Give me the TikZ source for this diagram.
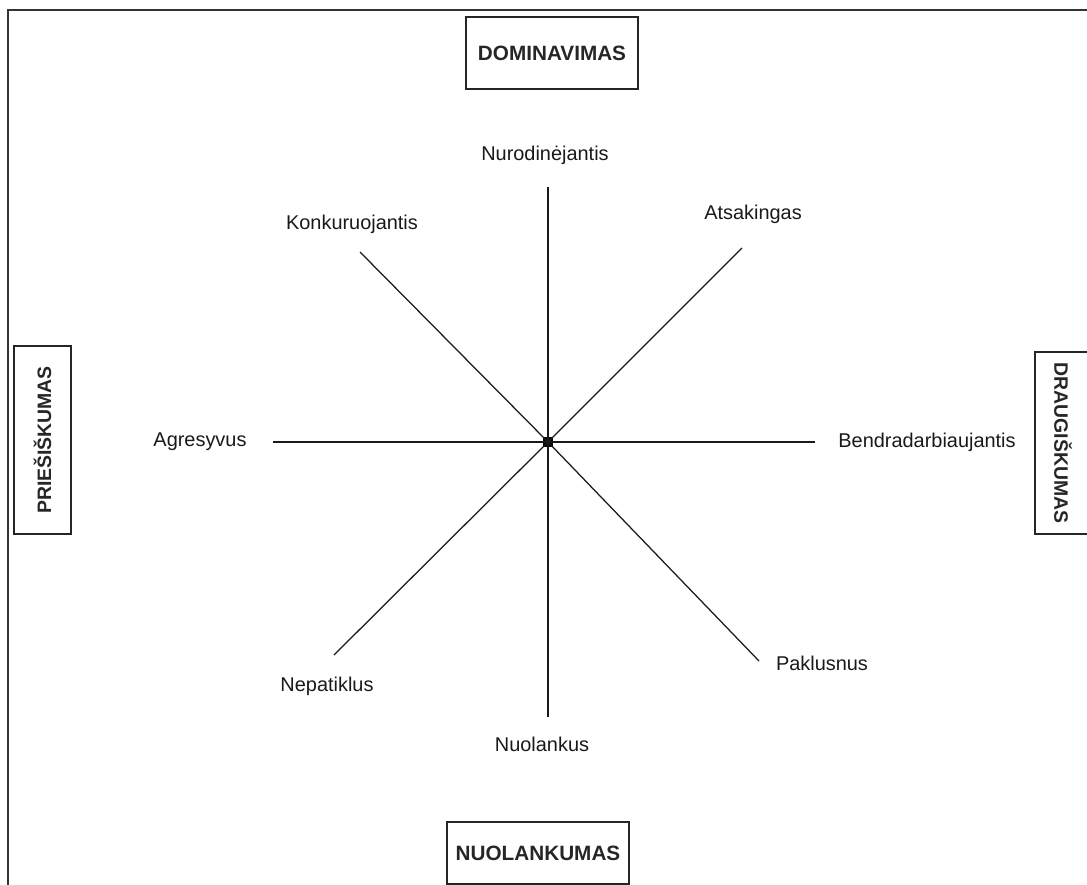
\documentclass[tikz,border=0pt]{standalone}
\usepackage{fontspec}
\setmainfont{Liberation Sans}
\begin{document}
\begin{tikzpicture}[x=1bp,y=-1bp,
  lbl/.style={inner sep=0pt,font=\fontsize{20}{24}\selectfont,text=black!90},
  axisbox/.style={draw=black!85,line width=1.5bp,inner sep=0pt,font=\fontsize{20.8}{24}\selectfont\bfseries,text=black!85},
  vbox/.style={axisbox,font=\fontsize{19.5}{23}\selectfont\bfseries},
  ray/.style={draw=black!90,line width=1.25bp}]
\useasboundingbox (0,0) rectangle (1087,885);
% outer frame
\draw[draw=black!80,line width=2.2bp] (8,900) -- (8,10) -- (1100,10);
% axis boxes
\node[axisbox,minimum width=172bp,minimum height=72bp] (dom) at (552,53) {DOMINAVIMAS};
\node[axisbox,minimum width=182bp,minimum height=62bp] (nuo) at (538,853) {NUOLANKUMAS};
\node[vbox,minimum width=188bp,minimum height=57bp,rotate=90] (pri) at (42.5,440) {PRIEŠIŠKUMAS};
\node[vbox,minimum width=182bp,minimum height=56bp,rotate=-90] (dra) at (1063,443) {DRAUGIŠKUMAS};
% center
\coordinate (o) at (548,442);
\node[fill=black,minimum size=10bp,inner sep=0pt] (dot) at (o) {};
% ray ends
\coordinate (eN) at (548,187);
\coordinate (eNE) at (742,248);
\coordinate (eE) at (815,442);
\coordinate (eSE) at (759,661);
\coordinate (eS) at (548,717);
\coordinate (eSW) at (334,655);
\coordinate (eW) at (273,442);
\coordinate (eNW) at (360,252);
\foreach \e in {eN,eNE,eE,eSE,eS,eSW,eW,eNW} \draw[ray] (o) -- (\e);
% labels
\node[lbl] (lN) at (545,155) {Nurodinėjantis};
\node[lbl] (lNE) at (753,214) {Atsakingas};
\node[lbl] (lE) at (927,442) {Bendradarbiaujantis};
\node[lbl] (lSE) at (822,663) {Paklusnus};
\node[lbl] (lS) at (542,744) {Nuolankus};
\node[lbl] (lSW) at (327,686) {Nepatiklus};
\node[lbl] (lW) at (200,442) {Agresyvus};
\node[lbl] (lNW) at (352,224) {Konkuruojantis};
\end{tikzpicture}
\end{document}
